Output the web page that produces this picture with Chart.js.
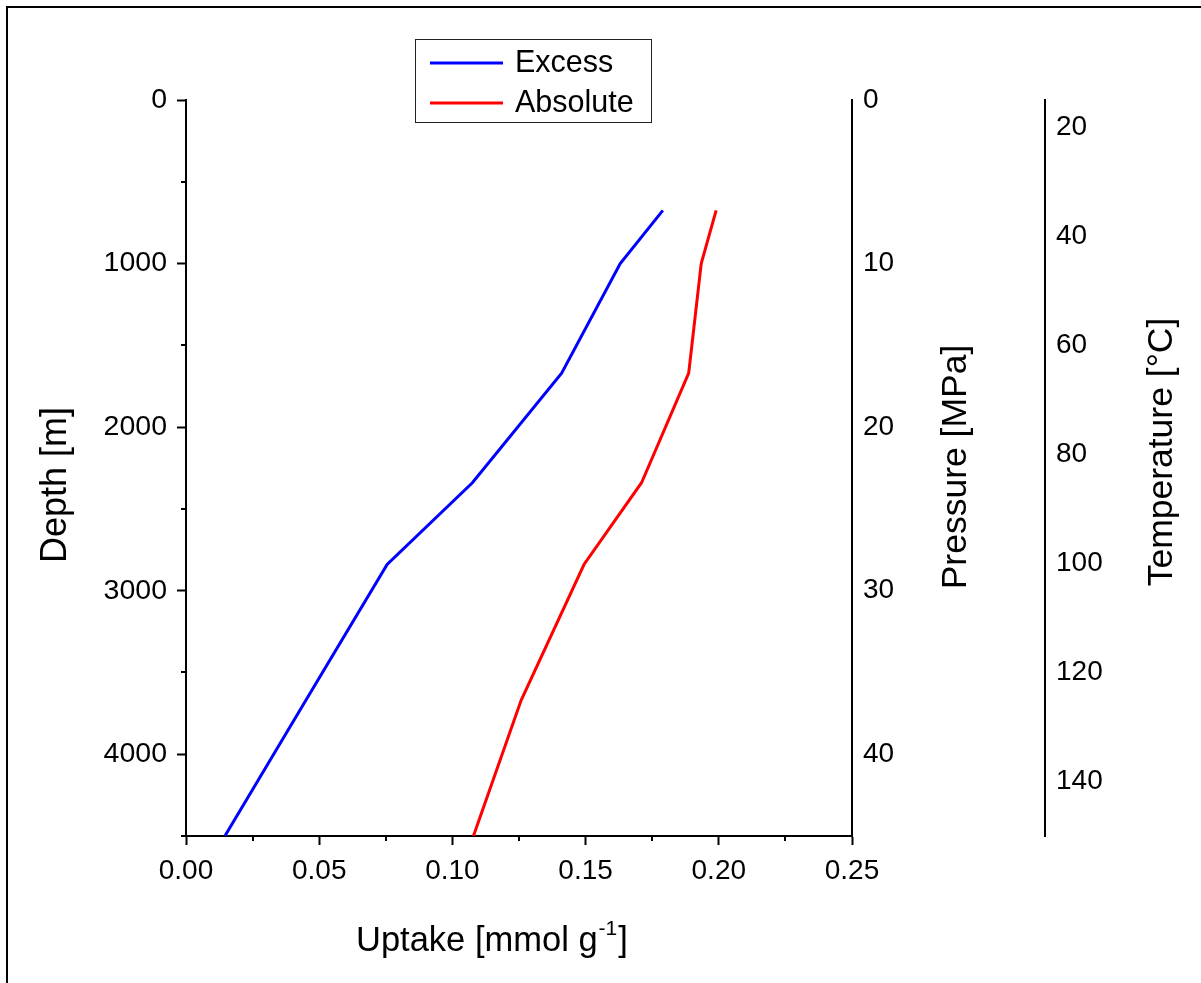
<!DOCTYPE html>
<html>
<head>
<meta charset="utf-8">
<script src="https://cdn.jsdelivr.net/npm/chart.js@4.4.0/dist/chart.umd.min.js"></script>
<style>
html,body{margin:0;padding:0;background:#fff;overflow:hidden;}
#wrap{position:absolute;left:0;top:0;width:1201px;height:983px;}
</style>
</head>
<body>
<div id="wrap"><canvas id="c" width="1201" height="983"></canvas></div>
<script>
// ---- data ----
const depthM         = [675, 1000, 1670, 2340, 2840, 3670, 4500];
const excessUptake   = [0.179, 0.163, 0.141, 0.1075, 0.0755, 0.045, 0.0146];
const absoluteUptake = [0.199, 0.1934, 0.1887, 0.171, 0.1494, 0.1258, 0.1079];
const seriesNames  = ['Excess', 'Absolute'];
const seriesColors = ['#0000FF', '#FF0000'];
// tick labels
const uptakeTicks      = [0, 0.05, 0.10, 0.15, 0.20, 0.25];
const depthTicks       = [0, 1000, 2000, 3000, 4000];
const pressureTicks    = [0, 10, 20, 30, 40];
const temperatureTicks = [20, 40, 60, 80, 100, 120, 140];
const depthMinorTicks  = [500, 1500, 2500, 3500, 4500];
const uptakeMinorTicks = [0.025, 0.075, 0.125, 0.175, 0.225];
const titles = {
  depth: 'Depth [m]',
  pressure: 'Pressure [MPa]',
  temperature: 'Temperature [\u00B0C]',
  uptakeMain: 'Uptake [mmol g',
  uptakeSup: '-1',
  uptakeEnd: ']'
};

const FONT = "'Liberation Sans', Arial, sans-serif";
Chart.defaults.font.family = FONT;
Chart.defaults.font.size = 28;
Chart.defaults.color = '#000';

function pts(xs) { return xs.map((v, i) => ({x: v, y: depthM[i]})); }
const setTicks = arr => s => { s.ticks = arr.map(v => ({value: v})); };

const framePlugin = {
  id: 'frame',
  beforeDraw(chart) {
    const ctx = chart.ctx;
    ctx.save();
    ctx.fillStyle = '#fff';
    ctx.fillRect(0, 0, chart.width, chart.height);
    ctx.strokeStyle = '#000';
    ctx.lineWidth = 2;
    ctx.beginPath();
    ctx.moveTo(7, chart.height); ctx.lineTo(7, 7); ctx.lineTo(chart.width, 7);
    ctx.stroke();
    ctx.restore();
  }
};

const extrasPlugin = {
  id: 'extras',
  afterDraw(chart) {
    const ctx = chart.ctx;
    const xs = chart.scales.x, ys = chart.scales.y;
    const pr = chart.scales.pressure, tp = chart.scales.temp;
    ctx.save();
    ctx.strokeStyle = '#000';
    ctx.lineWidth = 2;
    // minor ticks
    ctx.beginPath();
    depthMinorTicks.forEach(v => {
      const y = Math.round(ys.getPixelForValue(v));
      ctx.moveTo(ys.right - 5, y); ctx.lineTo(ys.right, y);
    });
    uptakeMinorTicks.forEach(v => {
      const x = Math.round(xs.getPixelForValue(v));
      ctx.moveTo(x, xs.top); ctx.lineTo(x, xs.top + 5);
    });
    ctx.stroke();

    ctx.fillStyle = '#000';
    // axis titles
    const rot = (text, bx, cy, size) => {
      ctx.save();
      ctx.translate(bx, cy);
      ctx.rotate(-Math.PI / 2);
      ctx.textAlign = 'center';
      ctx.textBaseline = 'alphabetic';
      ctx.font = size + 'px ' + FONT;
      ctx.fillText(text, 0, 0);
      ctx.restore();
    };
    rot(titles.depth, 66, 485, 36);
    rot(titles.pressure, pr.left + 114, 467, 35.5);
    rot(titles.temperature, tp.left + 127, 452, 35.5);

    // bottom title with superscript
    ctx.textAlign = 'left';
    ctx.textBaseline = 'alphabetic';
    ctx.font = '34.5px ' + FONT;
    const x0 = 356, base = 951;
    const w1 = ctx.measureText(titles.uptakeMain).width;
    ctx.fillText(titles.uptakeMain, x0, base);
    ctx.font = '21px ' + FONT;
    const w2 = ctx.measureText(titles.uptakeSup).width;
    ctx.fillText(titles.uptakeSup, x0 + w1 + 1, base - 16);
    ctx.font = '34.5px ' + FONT;
    ctx.fillText(titles.uptakeEnd, x0 + w1 + w2 + 2, base);

    // legend
    const lx = 415, ly = 39, lw = 236, lh = 83;
    ctx.lineWidth = 1;
    ctx.strokeStyle = '#222';
    ctx.strokeRect(lx + 0.5, ly + 0.5, lw, lh);
    chart.data.datasets.forEach((ds, i) => {
      const yy = 63 + i * 40;
      ctx.strokeStyle = ds.borderColor;
      ctx.lineWidth = 3;
      ctx.beginPath(); ctx.moveTo(430, yy); ctx.lineTo(503, yy); ctx.stroke();
      ctx.fillStyle = '#000';
      ctx.font = '30.5px ' + FONT;
      ctx.textBaseline = 'middle';
      ctx.fillText(ds.label, 515, yy + 1);
    });
    ctx.restore();
  }
};

new Chart(document.getElementById('c'), {
  type: 'scatter',
  data: {
    datasets: [
      {label: seriesNames[0], data: pts(excessUptake), borderColor: seriesColors[0], backgroundColor: seriesColors[0],
       showLine: true, borderWidth: 3, pointRadius: 0, pointHoverRadius: 0, tension: 0, xAxisID: 'x', yAxisID: 'y'},
      {label: seriesNames[1], data: pts(absoluteUptake), borderColor: seriesColors[1], backgroundColor: seriesColors[1],
       showLine: true, borderWidth: 3, pointRadius: 0, pointHoverRadius: 0, tension: 0, xAxisID: 'x', yAxisID: 'y'}
    ]
  },
  options: {
    responsive: false,
    animation: false,
    devicePixelRatio: 1,
    layout: {padding: {top: 100, left: 0, right: 0, bottom: 0}},
    plugins: {legend: {display: false}, tooltip: {enabled: false}, title: {display: false}},
    scales: {
      x: {
        type: 'linear', position: 'bottom', min: 0, max: 0.25,
        afterBuildTicks: setTicks(uptakeTicks),
        ticks: {padding: 9, maxRotation: 0, autoSkip: false, callback: v => Number(v).toFixed(2)},
        grid: {drawOnChartArea: false, drawTicks: true, tickLength: 9, tickWidth: 2, tickColor: '#000'},
        border: {display: true, color: '#000', width: 2},
        afterFit: s => { s.height = 147; }
      },
      y: {
        type: 'linear', position: 'left', min: 0, max: 4500, reverse: true,
        afterBuildTicks: setTicks(depthTicks),
        ticks: {padding: 10, autoSkip: false, callback: v => String(v), font: {size: 28.5}},
        grid: {drawOnChartArea: false, drawTicks: true, tickLength: 9, tickWidth: 2, tickColor: '#000'},
        border: {display: true, color: '#000', width: 2},
        afterFit: s => { s.width = 186; }
      },
      pressure: {
        type: 'linear', position: 'right', min: 0, max: 45, reverse: true, weight: 1, display: true,
        afterBuildTicks: setTicks(pressureTicks),
        ticks: {padding: 11, autoSkip: false, callback: v => String(v)},
        grid: {drawOnChartArea: false, drawTicks: false},
        border: {display: true, color: '#000', width: 2},
        afterFit: s => { s.width = 193; }
      },
      temp: {
        type: 'linear', position: 'right', min: 15, max: 150, reverse: true, weight: 2, display: true,
        afterBuildTicks: setTicks(temperatureTicks),
        ticks: {padding: 11, autoSkip: false, callback: v => String(v)},
        grid: {drawOnChartArea: false, drawTicks: false},
        border: {display: true, color: '#000', width: 2},
        afterFit: s => { s.width = 156; }
      }
    }
  },
  plugins: [framePlugin, extrasPlugin]
});
</script>
</body>
</html>
